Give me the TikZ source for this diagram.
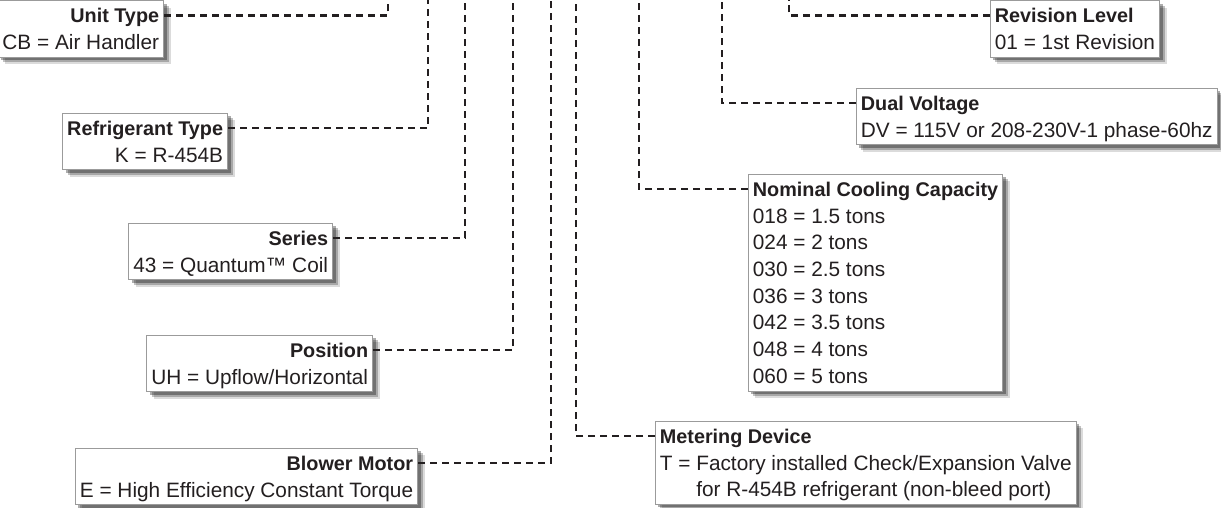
\documentclass[tikz,border=0pt]{standalone}
\usepackage{fontspec}
\setmainfont{Liberation Sans}
\usepackage{xcolor}
\usepackage{tikz}
\usetikzlibrary{shadows}
\definecolor{ink}{RGB}{35,31,32}
\definecolor{frame}{RGB}{155,155,155}
\newcommand{\hd}[1]{\rule{0pt}{19pt}{\fontsize{19.8}{26.7}\selectfont\bfseries #1}}

\begin{document}
\begin{tikzpicture}[x=1pt,y=-1pt,
  box/.style={draw=frame,line width=0.8pt,fill=white,text=ink,
    inner xsep=4.5pt,inner ysep=3pt,font=\fontsize{20.8}{26.7}\selectfont,
    execute at end node={\rule[-4.6pt]{0pt}{4.6pt}},
    drop shadow={shadow xshift=7pt,shadow yshift=-7pt,fill=black,opacity=.14},
    drop shadow={shadow xshift=5pt,shadow yshift=-5pt,fill=black,opacity=.24},
    drop shadow={shadow xshift=3pt,shadow yshift=-3pt,fill=black,opacity=.32}},
  lbox/.style={box,align=right,anchor=north east},
  rbox/.style={box,align=left,anchor=north west},
  leader/.style={draw=ink,line width=2.2pt,dash pattern=on 7pt off 5pt},
]
  \useasboundingbox (0,0) rectangle (1221,508);

  \node[lbox] (unit) at (164,0.5) {\hd{Unit Type}\\CB = Air Handler};
  \node[lbox] (refr) at (228,113) {\hd{Refrigerant Type}\\K = R-454B};
  \node[lbox] (series) at (333,223) {\hd{Series}\\43 = Quantum™ Coil};
  \node[lbox] (posn) at (373,335) {\hd{Position}\\UH = Upflow/Horizontal};
  \node[lbox] (blower) at (418,448) {\hd{Blower Motor}\\E = High Efficiency Constant Torque};

  \node[rbox] (rev) at (990,0.5) {\hd{Revision Level}\\01 = 1st Revision};
  \node[rbox] (volt) at (856,88) {\hd{Dual Voltage}\\DV = 115V or 208-230V-1 phase-60hz};
  \node[rbox] (cap) at (748,174) {\hd{Nominal Cooling Capacity}\\018 = 1.5 tons\\024 = 2 tons\\030 = 2.5 tons\\036 = 3 tons\\042 = 3.5 tons\\048 = 4 tons\\060 = 5 tons};
  \node[rbox] (meter) at (655,421) {\hd{Metering Device}\\T = Factory installed Check/Expansion Valve\\\hphantom{T = }for R-454B refrigerant (non-bleed port)};

  \coordinate (unitTop) at (388,0);
  \coordinate (refrTop) at (428,0);
  \coordinate (seriesTop) at (465,0);
  \coordinate (posnTop) at (513,0);
  \coordinate (blowerTop) at (551,0);
  \coordinate (meterTop) at (576,0);
  \coordinate (capTop) at (639,0);
  \coordinate (voltTop) at (722,0);
  \coordinate (revTop) at (789,0);

  \draw[leader] ([yshift=-15pt]unit.north east) -| (unitTop);
  \draw[leader] ([yshift=-15pt]refr.north east) -| (refrTop);
  \draw[leader] ([yshift=-15pt]series.north east) -| (seriesTop);
  \draw[leader] ([yshift=-15pt]posn.north east) -| (posnTop);
  \draw[leader] ([yshift=-15pt]blower.north east) -| (blowerTop);
  \draw[leader] ([yshift=-15pt]meter.north west) -| (meterTop);
  \draw[leader] ([yshift=-15pt]cap.north west) -| (capTop);
  \draw[leader] ([yshift=-15pt]volt.north west) -| (voltTop);
  \draw[leader] ([yshift=-15pt]rev.north west) -| (revTop);
\end{tikzpicture}
\end{document}
